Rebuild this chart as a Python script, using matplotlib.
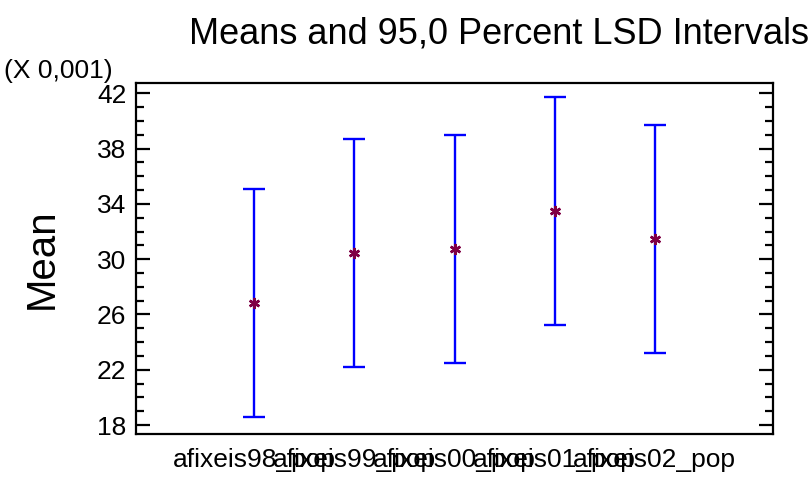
import matplotlib
matplotlib.use("Agg")
import matplotlib.pyplot as plt
from matplotlib import font_manager
from matplotlib.ticker import MultipleLocator

# group means (units of 0.001) and LSD half-width
groups = ["afixeis98_pop", "afixeis99_pop", "afixeis00_pop", "afixeis01_pop", "afixeis02_pop"]
means = [26.84, 30.44, 30.74, 33.49, 31.46]
lsd_half = [8.24, 8.24, 8.24, 8.24, 8.24]
y_ticks = [18, 22, 26, 30, 34, 38, 42]


def pick_font(names):
    for name in names:
        try:
            font_manager.findfont(name, fallback_to_default=False)
            return name
        except Exception:
            continue
    return "DejaVu Sans"


base_font = pick_font(["Liberation Sans", "Arial"])
plt.rcParams["font.family"] = [base_font, "DejaVu Sans"]

fig = plt.figure(figsize=(8.12, 4.78), dpi=100)
ax = fig.add_axes([136 / 812, 1 - 434 / 478, (773 - 136) / 812, (434 - 83) / 478])

x = list(range(1, len(groups) + 1))
ax.errorbar(x, means, yerr=lsd_half, fmt="none", ecolor="#0000ff",
            elinewidth=1.7, capsize=8, capthick=1.7, zorder=2)
ax.plot(x, means, linestyle="none", marker=(6, 2, 0), markersize=8,
        markeredgewidth=1.8, color="#800045", zorder=3)

ax.set_xlim(-0.18, 6.18)
ax.set_ylim(17.35, 42.75)
ax.set_yticks(y_ticks)
ax.yaxis.set_minor_locator(MultipleLocator(1))
ax.set_xticks(x)
ax.set_xticklabels(groups, fontsize=19)
ax.tick_params(axis="x", length=0, pad=10)
ax.tick_params(axis="y", which="major", direction="in", length=10, width=1.6,
               left=True, right=True, labelsize=19, pad=7)
ax.tick_params(axis="y", which="minor", direction="in", length=6, width=1.6,
               left=True, right=True)
for sp in ax.spines.values():
    sp.set_linewidth(1.6)

ax.set_ylabel("Mean", fontsize=29, labelpad=26)

fig.text(499 / 812, 1 - 34 / 478, "Means and 95,0 Percent LSD Intervals",
         ha="center", va="center", fontsize=26)
fig.text(4 / 812, 1 - 71 / 478, "(X 0,001)", ha="left", va="center", fontsize=19)

fig.savefig("out.png", dpi=100)
